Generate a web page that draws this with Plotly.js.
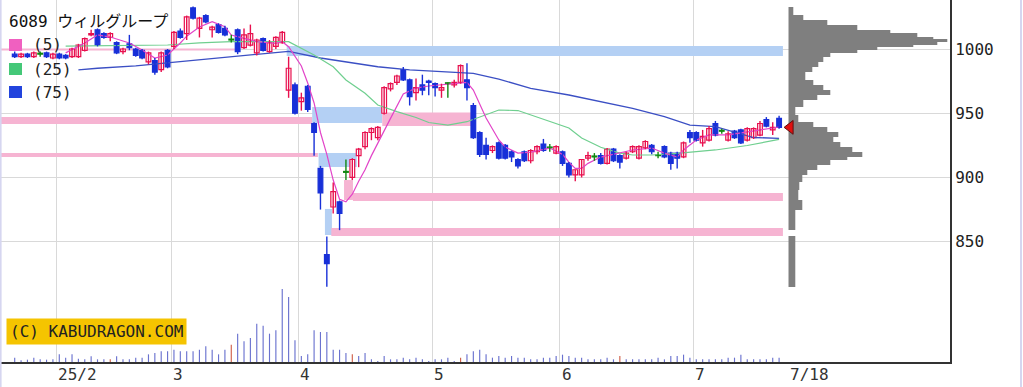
<!DOCTYPE html>
<html><head><meta charset="utf-8">
<script src="https://cdn.plot.ly/plotly-3.0.1.min.js"></script>
<style>html,body{margin:0;padding:0;background:#fff;}#chart{width:1023px;height:387px;}</style>
</head><body><div id="chart"></div>
<script>
// ---- data (index 0 = 2025/1/23 ... index 120 = 2025/7/18, trading days) ----
const openP  = [996,994,996,994,996,997,993,996,995,994,994,999,1011,1015,1012,1009,1005,998,1004,1000,999,990,991,984,999,1002,1014,1012,1032,1016,1026,1015,1019,1016,1007,1015,1001,1003,997,1008,998,1002,1005,968,972,959,971,942,907,840,877,881,904,900,917,924,935,931,950,969,974,984,976,966,972,975,973,968,973,972,974,976,956,935,925,921,927,925,920,914,920,913,920,926,923,919,920,911,902,902,915,916,917,911,922,917,915,920,915,923,925,917,924,919,919,916,935,935,927,929,942,936,929,936,937,929,931,933,945,937,946];
const highP  = [998,997,997,998,998,998,997,997,996,1001,1004,1009,1015,1016,1013,1013,1006,1001,1011,1001,1000,998,993,998,1000,1014,1016,1026,1033,1025,1027,1018,1020,1018,1011,1016,1016,1019,1008,1009,1007,1010,1014,994,974,966,972,943,909,854,896,882,914,915,923,936,939,940,971,974,980,986,977,977,980,976,974,973,974,976,988,989,958,936,931,925,928,926,921,915,921,922,925,930,926,925,921,912,906,914,920,919,919,923,923,918,920,925,925,929,926,920,925,920,920,928,937,936,937,940,944,938,936,937,938,939,939,944,947,943,948];
const lowP   = [993,993,993,993,994,993,992,992,992,993,993,998,1010,1002,1008,1006,996,996,999,994,992,988,980,982,985,1000,1008,1007,1023,1009,1020,1009,1012,1010,1005,996,1000,1002,995,998,997,1000,1004,962,949,952,951,917,875,815,872,859,898,898,908,922,929,929,949,967,972,975,956,960,964,964,963,962,962,970,973,960,930,916,914,919,914,914,912,907,912,911,918,920,920,918,909,900,897,900,913,913,910,910,912,907,914,919,914,922,918,915,915,906,907,915,927,928,924,928,932,934,928,930,926,928,930,932,939,933,938];
const closeP = [994,996,994,997,996,994,996,993,993,1000,1003,1008,1012,1003,1009,1012,997,1000,1001,995,993,997,982,997,986,1013,1009,1025,1024,1024,1021,1017,1013,1011,1007,998,1011,1012,1007,999,1005,1009,1013,985,950,962,953,935,888,833,889,872,904,914,922,935,938,939,970,973,979,976,963,970,968,974,970,970,973,974,987,970,931,918,918,924,915,915,916,909,913,921,924,921,923,924,911,902,906,914,917,916,911,922,913,912,919,924,924,928,920,917,916,911,915,927,931,929,932,938,933,936,934,931,927,938,938,942,940,939,939];
const volume = [13,5,7,13,8,7,8,23,13,23,10,8,17,8,8,8,17,8,8,13,13,23,27,32,32,37,32,32,32,37,47,37,23,37,52,85,62,72,115,109,85,95,219,195,65,18,23,95,90,90,37,37,27,23,18,27,8,3,18,8,8,13,8,13,8,3,8,8,13,3,13,23,32,37,23,13,18,13,18,13,13,8,8,13,13,18,22,18,13,13,8,8,8,13,8,18,8,8,8,8,8,13,8,18,18,22,13,8,8,8,8,8,13,13,22,8,8,8,8,13,13];
const sqDays = [15,34,53,70,95];   // red volume bars (SQ days)

const ma5Day  = [8,11,13,15,18,20,22,24,26,27,29,31,33,34,36,38,41,42,43,45,46,47,48,49,50,51,52,53,54,55,56,57,58,59,61,63,65,68,71,72,74,76,77,79,81,84,86,87,88,89,90,92,95,97,100,102,104,105,107,109,112,114,117,120];
const ma5Val  = [997,1004.7,1010.9,1009.3,1004.7,999.2,993,995.3,1004.7,1010,1017.1,1021.3,1017.4,1010.9,1008.3,1005.7,1004.4,1005.7,1001.8,986.8,973.5,958,935,918,898,883,881,887,897,906,917,927,937,946,965,969.6,971.2,972.8,974,968,946.3,929.2,923.7,919,919.8,922.9,918,912,907,907,911,915.9,919,921.4,922.9,919,915.9,921.4,929.2,933.1,933.1,934.6,936.9,939.3];
const ma25Day = [8,16,24,29,34,43,45,47,50,52,55,57,60,63,65,68,71,74,76,79,81,84,87,89,92,95,97,100,104,110,115,120];
const ma25Val = [1002.3,1002.6,1003.1,1004.7,1005.7,1005.7,1000.5,995.3,986.2,975.9,965.5,956.4,951.2,946.7,942.8,940.8,943.4,948.6,952.5,952.1,948.6,943.4,938.5,930.7,923.5,919,917.5,917.5,918.7,921.4,924.9,929.6];
const ma75Day = [10,13,19,24,29,34,40,43,48,52,57,62,68,72,76,81,87,92,97,102,106,110,116,120];
const ma75Val = [983.7,985,986.8,989.1,991.4,993.8,996.9,998.2,993,990.1,986.2,983.7,982.3,981.1,976.6,969.4,964.2,959,953.8,947.3,940.8,939.5,931.1,930.5];

// price-by-volume profile: price band low/high and volume
const profLow  = [1026.5,1022.6,1018.7,1014.8,1012.5,1009.3,1007.8,1005.4,1003.1,1001.6,999.2,996.9,993.8,989.9,986.0,982.1,975.9,972.0,968.1,964.2,960.3,954.9,948.6,943.2,939.3,935.4,931.5,927.6,923.7,919.8,915.9,913.6,909.7,905.8,901.9,896.5,890.2,882.5,874.7,859.1,814.7];
const profHigh = [1032.7,1026.5,1022.6,1018.7,1014.8,1012.5,1009.3,1007.8,1005.4,1003.1,1001.6,999.2,996.9,993.8,989.9,986.0,982.1,975.9,972.0,968.1,964.2,960.3,954.9,948.6,943.2,939.3,935.4,931.5,927.6,923.7,919.8,915.9,913.6,909.7,905.8,901.9,896.5,890.2,882.5,874.7,854.4];
const profVol  = [5,15,39,69,102,129,145,159,149,125,89,69,42,35,30,24,17,25,35,42,29,15,7,10,25,39,50,45,52,64,74,59,42,29,19,14,11,10,14,7,7];

// price gaps (windows): from day, to day (null = still open), low, high, kind
const gapFrom = [-3,-3,-3,42.7,46.7,47.7,48.7,49.7,51.7,53.1,57.7];
const gapTo   = [34.7,46.7,47.6,null,57.7,53.7,49.8,null,53.1,null,71.7];
const gapLow  = [998.8,941.6,915.9,994.6,942.4,908.1,855.2,854.4,882.5,881.7,940.1];
const gapHigh = [1000.4,947.1,919.0,1002.3,954.9,919.0,875.5,860.7,898.0,887.9,950.5];
const gapKind = ['up','up','up','down','down','down','down','up','up','up','up'];

const monthStart = [7,25,45,66,86,107];
const monthLabel = ['25/2','3','4','5','6','7'];
const lastLabel  = '7/18';
const title = '6089 ウィルグループ';
const maNames = ['(5)','(25)','(75)'];

// ---- build ----
const N = closeP.length, last = N - 1;
const days = closeP.map((_, i) => i);
const C_UP = '#e8104e', C_DN = '#1830d8', C_DJ = '#118811';
const groups = {up: [], dn: [], dj: []};
days.forEach(i => {
  if (closeP[i] > openP[i]) groups.up.push(i);
  else if (closeP[i] < openP[i]) groups.dn.push(i);
  else groups.dj.push(i);
});
function wick(idx, color) {
  const x = [], y = [];
  idx.forEach(i => { x.push(i, i, null); y.push(lowP[i], highP[i], null); });
  return {type:'scatter', mode:'lines', x, y, line:{color, width:1.4}, hoverinfo:'skip'};
}
function body(idx, fill, color) {
  return {type:'bar', x: idx, base: idx.map(i => Math.min(openP[i], closeP[i])),
    y: idx.map(i => Math.max(Math.abs(closeP[i] - openP[i]), 0.7)),
    width: 0.74, marker:{color: fill, line:{color, width:1.2}}, hoverinfo:'skip'};
}
const traces = [];
traces.push({type:'bar', x: days, y: volume, yaxis:'y2', width: 0.18,
  marker:{color: days.map(i => sqDays.includes(i) ? '#d0604a' : '#6a72cf'), line:{width:0}}, hoverinfo:'skip'});
traces.push({type:'scatter', mode:'lines', x: ma75Day, y: ma75Val, line:{color:'#3b4fc4', width:1.3}, hoverinfo:'skip'});
traces.push({type:'scatter', mode:'lines', x: ma25Day, y: ma25Val, line:{color:'#6fcf8f', width:1.2}, hoverinfo:'skip'});
traces.push({type:'scatter', mode:'lines', x: ma5Day, y: ma5Val, line:{color:'#e244c8', width:1.2}, hoverinfo:'skip'});
traces.push(wick(groups.up, C_UP), wick(groups.dn, C_DN), wick(groups.dj, C_DJ));
traces.push(body(groups.up, '#ffffff', C_UP), body(groups.dn, C_DN, C_DN), body(groups.dj, C_DJ, C_DJ));
traces.push({type:'bar', orientation:'h', xaxis:'x2', yaxis:'y',
  y: profLow.map((l, i) => (l + profHigh[i]) / 2), x: profVol,
  width: profLow.map((l, i) => profHigh[i] - l),
  marker:{color:'#7f7f7f', line:{width:0}}, hoverinfo:'skip'});
// last-price marker drawn on the profile panel so it sits above it
traces.push({type:'scatter', mode:'markers', xaxis:'x2', yaxis:'y', x:[1.8], y:[closeP[last]], cliponaxis:false,
  marker:{symbol:'triangle-left', size:12, color:'#e01010', line:{color:'#601010', width:1}}, hoverinfo:'skip'});

const shapes = gapFrom.map((f, i) => ({type:'rect', xref:'x', yref:'y', x0:f,
  x1: gapTo[i] === null ? last + 0.6 : gapTo[i], y0: gapLow[i], y1: gapHigh[i],
  fillcolor: gapKind[i] === 'up' ? '#f6b4d2' : '#b4d0f4', line:{width:0}, layer:'between'}));
// legend swatches
const swatch = ['#f060c0', '#44c878', '#2244dd'];
const rowTop = [39, 63, 86], H = 362, W = 950;
swatch.forEach((c, k) => shapes.push({type:'rect', xref:'paper', yref:'paper',
  x0: 9 / W, x1: 22 / W, y0: 1 - (rowTop[k] + 12) / H, y1: 1 - rowTop[k] / H,
  fillcolor: c, line:{width:0}, layer:'above'}));
// page border
shapes.push({type:'line', xref:'paper', yref:'paper', x0: 0.6 / W, x1: 0.6 / W, y0: -25 / H, y1: 1, line:{color:'#d6d6f0', width:2}});
shapes.push({type:'line', xref:'paper', yref:'paper', x0: 1021 / W, x1: 1021 / W, y0: -25 / H, y1: 1, line:{color:'#d6d6f0', width:2}});

const MONO = "'DejaVu Sans Mono', 'Noto Sans CJK JP', monospace";
const ann = [];
ann.push({xref:'paper', yref:'paper', x: 0, y: 1, xanchor:'left', yanchor:'top', xshift: 7, yshift: -10,
  text: title, showarrow:false, font:{family: MONO, size:16, color:'#111'}});
maNames.forEach((t, k) => ann.push({xref:'paper', yref:'paper', x: 31 / W, y: 1 - (rowTop[k] + 6) / H,
  xanchor:'left', yanchor:'middle', text: t, showarrow:false, font:{family: MONO, size:16, color:'#222'}}));
monthStart.forEach((d, k) => ann.push({xref:'x', yref:'paper', x: d - 0.45, y: 0, xanchor:'left', yanchor:'top',
  xshift: 0, yshift: -1, text: monthLabel[k], showarrow:false, font:{family: MONO, size:16, color:'#333'}}));
ann.push({xref:'x', yref:'paper', x: last + 1.4, y: 0, xanchor:'left', yanchor:'top', yshift: -1,
  text: lastLabel, showarrow:false, font:{family: MONO, size:16, color:'#333'}});
ann.push({xref:'paper', yref:'paper', x: 6 / W, y: 1 - 331 / H, xanchor:'left', yanchor:'middle',
  text: '(C) KABUDRAGON.COM', showarrow:false, bgcolor:'#f5c400', borderpad: 3,
  font:{family: MONO, size:16, color:'#222'}});

const layout = {
  width: 1023, height: 387, margin:{l:0, r:73, t:0, b:25, pad:0},
  paper_bgcolor:'#ffffff', plot_bgcolor:'#ffffff', showlegend:false, barmode:'overlay',
  xaxis:{range:[-2.308, 146.83], tickvals: monthStart.map(d => d - 0.45), showticklabels:false, ticks:'',
    showgrid:true, gridcolor:'#d9d9d9', gridwidth:1, zeroline:false, showline:true, linecolor:'#333', linewidth:2},
  yaxis:{range:[756.36, 1038.14], side:'right', tickvals:[850, 900, 950, 1000], ticks:'inside', ticklen:4,
    tickcolor:'#333', tickwidth:2, showgrid:true, gridcolor:'#d9d9d9', zeroline:false, showline:true,
    linecolor:'#333', linewidth:2, tickfont:{family: MONO, size:16, color:'#222'}},
  yaxis2:{overlaying:'y', range:[0, 1086], visible:false},
  xaxis2:{domain:[788.3 / W, 1], range:[0, 161.7], anchor:'y', visible:false},
  shapes, annotations: ann
};
Plotly.newPlot('chart', traces, layout, {staticPlot:true});
</script></body></html>
